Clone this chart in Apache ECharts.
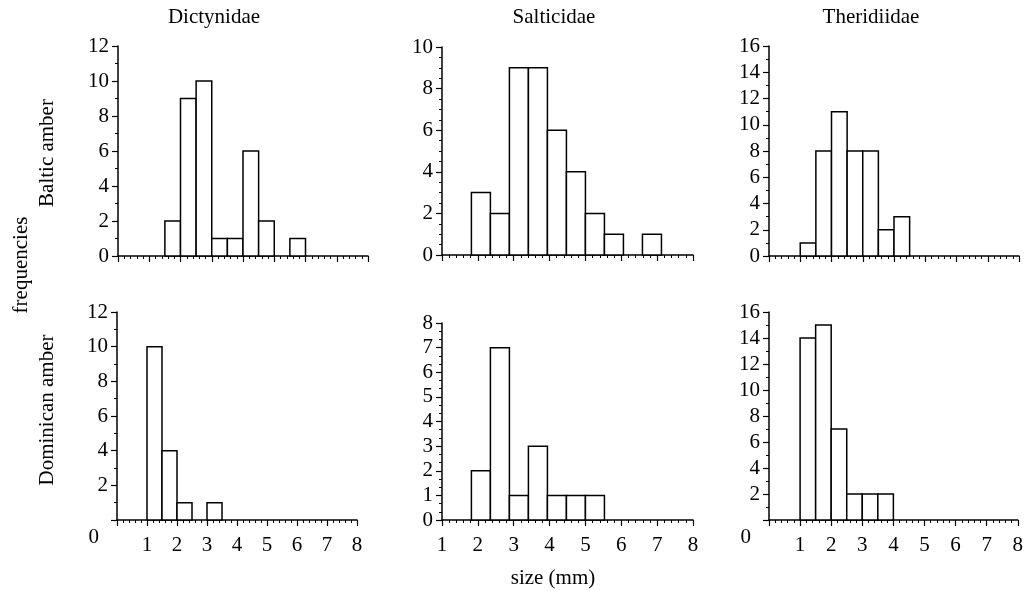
<!DOCTYPE html>
<html>
<head>
<meta charset="utf-8">
<script src="https://cdn.jsdelivr.net/npm/echarts@6/dist/echarts.min.js"></script>
<style>
html,body{margin:0;padding:0;background:#fff;}
#chart{width:1026px;height:591px;}
</style>
</head>
<body>
<div id="chart"></div>
<script>
// ---- data ----
const families = ['Dictynidae', 'Salticidae', 'Theridiidae'];
const rowLabels = ['Baltic amber', 'Dominican amber'];
const yLabel = 'frequencies';
const xLabel = 'size (mm)';

// histogram bins: first bin start, bin width, counts
const dictBalticStart = 1.5, dictBalticWidth = 0.5;
const dictBalticCounts = [2, 9, 10, 1, 1, 6, 2, 0, 1];
const saltBalticStart = 1.82, saltBalticWidth = 0.53;
const saltBalticCounts = [3, 2, 9, 9, 6, 4, 2, 1, 0, 1];
const therBalticStart = 1.0, therBalticWidth = 0.5;
const therBalticCounts = [1, 8, 11, 8, 8, 2, 3];

const dictDomStart = 1.0, dictDomWidth = 0.5;
const dictDomCounts = [10, 4, 1, 0, 1];
const saltDomStart = 1.82, saltDomWidth = 0.53;
const saltDomCounts = [2, 7, 1, 3, 1, 1, 1];
const therDomStart = 1.0, therDomWidth = 0.5;
const therDomCounts = [14, 15, 7, 2, 2, 2];

// axis ranges
const xRanges = [[0, 8], [1, 8], [0, 8], [0, 8], [1, 8], [0, 8]];
const yMax = [12, 10, 16, 12, 8, 16];
const yInterval = [2, 2, 2, 2, 1, 2];
const yMinorSplit = [2, 4, 2, 2, 3, 2];

// ---- build ----
const FONT = '"Liberation Serif", "DejaVu Serif", serif';
const FS = 21;
const panels = [
  [dictBalticStart, dictBalticWidth, dictBalticCounts],
  [saltBalticStart, saltBalticWidth, saltBalticCounts],
  [therBalticStart, therBalticWidth, therBalticCounts],
  [dictDomStart, dictDomWidth, dictDomCounts],
  [saltDomStart, saltDomWidth, saltDomCounts],
  [therDomStart, therDomWidth, therDomCounts]
];
const grids = [
  {left: 118, top: 46, width: 250, height: 210},
  {left: 442, top: 47, width: 251, height: 208},
  {left: 769, top: 46, width: 250, height: 210},
  {left: 117, top: 312, width: 240, height: 208},
  {left: 442, top: 323, width: 251, height: 197},
  {left: 769, top: 312, width: 251, height: 208}
];

function binsData(start, w, counts) {
  const out = [];
  counts.forEach((c, i) => {
    if (c > 0) out.push([start + i * w, start + (i + 1) * w, c]);
  });
  return out;
}

const axisLine = {show: true, onZero: false, lineStyle: {color: '#000', width: 1.5}};
const xAxes = [], yAxes = [], series = [];
for (let i = 0; i < 6; i++) {
  const bottom = i >= 3;
  const zeroLow = (i === 3 || i === 5);
  xAxes.push({
    type: 'value', gridIndex: i, min: xRanges[i][0], max: xRanges[i][1], interval: 1,
    axisLine: axisLine,
    axisTick: {show: true, inside: false, length: 6, lineStyle: {color: '#000', width: 1.2}},
    minorTick: {show: true, splitNumber: 5, length: 3, lineStyle: {color: '#000', width: 1}},
    splitLine: {show: false},
    axisLabel: {
      show: bottom, margin: 15, color: '#000', fontFamily: FONT, fontSize: FS,
      formatter: v => (v === 0 ? '' : String(v))
    }
  });
  yAxes.push({
    type: 'value', gridIndex: i, min: 0, max: yMax[i], interval: yInterval[i],
    axisLine: axisLine,
    axisTick: {show: true, inside: false, length: 6, lineStyle: {color: '#000', width: 1.2}},
    minorTick: {show: true, splitNumber: yMinorSplit[i], length: 3, lineStyle: {color: '#000', width: 1}},
    splitLine: {show: false},
    axisLabel: {
      margin: 9, color: '#000', fontFamily: FONT, fontSize: FS,
      formatter: v => (zeroLow && v === 0 ? '{low|0}' : String(v)),
      rich: {low: {fontFamily: FONT, fontSize: FS, color: '#000', padding: [34, 9, 0, 0]}}
    }
  });
  const p = panels[i];
  series.push({
    type: 'custom', xAxisIndex: i, yAxisIndex: i,
    data: binsData(p[0], p[1], p[2]),
    encode: {x: [0, 1], y: 2},
    renderItem: function (params, api) {
      const a = api.coord([api.value(0), 0]);
      const b = api.coord([api.value(1), api.value(2)]);
      return {
        type: 'rect',
        shape: {x: a[0], y: b[1], width: b[0] - a[0], height: a[1] - b[1]},
        style: {fill: '#fff', stroke: '#000', lineWidth: 1.5}
      };
    }
  });
}

const titleStyle = {color: '#000', fontFamily: FONT, fontSize: FS, fontWeight: 'normal'};
const option = {
  animation: false,
  backgroundColor: '#fff',
  title: [
    {text: families[0], left: 209, top: 2, textAlign: 'center', textStyle: titleStyle},
    {text: families[1], left: 549, top: 2, textAlign: 'center', textStyle: titleStyle},
    {text: families[2], left: 866, top: 2, textAlign: 'center', textStyle: titleStyle},
    {text: xLabel, left: 548, top: 563, textAlign: 'center', textStyle: titleStyle}
  ],
  graphic: [
    {type: 'text', x: 21, y: 265, rotation: Math.PI / 2, style: {text: yLabel, fill: '#000', font: FS + 'px ' + FONT, align: 'center', verticalAlign: 'middle'}},
    {type: 'text', x: 47, y: 153, rotation: Math.PI / 2, style: {text: rowLabels[0], fill: '#000', font: FS + 'px ' + FONT, align: 'center', verticalAlign: 'middle'}},
    {type: 'text', x: 47, y: 410, rotation: Math.PI / 2, style: {text: rowLabels[1], fill: '#000', font: FS + 'px ' + FONT, align: 'center', verticalAlign: 'middle'}}
  ],
  grid: grids,
  xAxis: xAxes,
  yAxis: yAxes,
  series: series
};
const chart = echarts.init(document.getElementById('chart'), null, {renderer: 'canvas'});
chart.setOption(option);
</script>
</body>
</html>
